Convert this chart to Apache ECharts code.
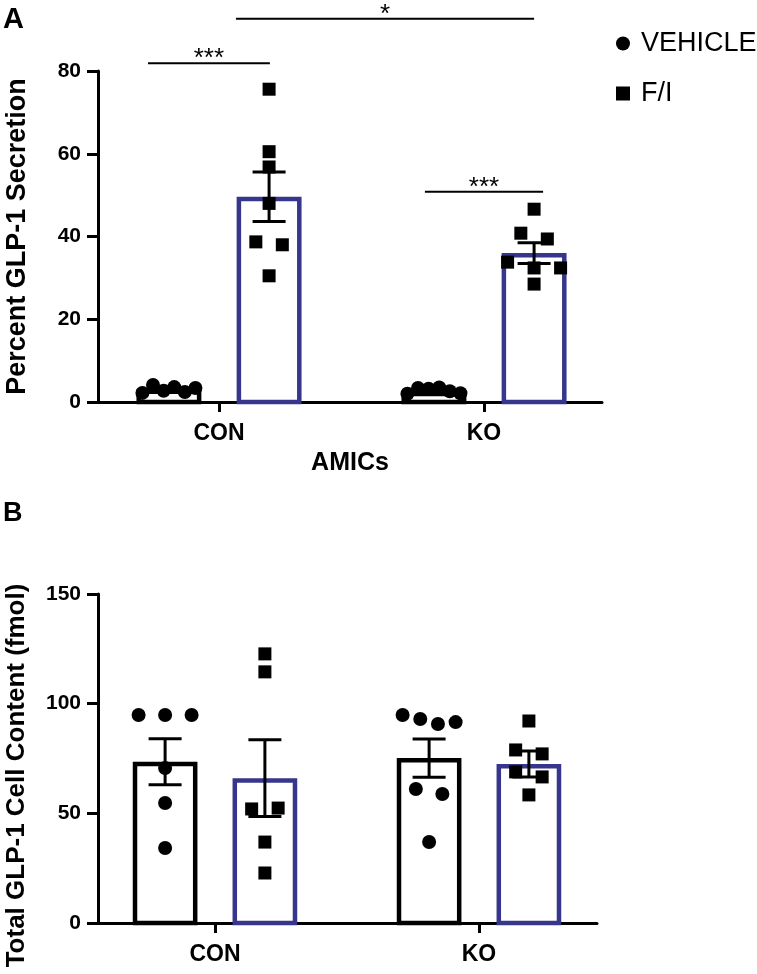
<!DOCTYPE html>
<html><head><meta charset="utf-8">
<script src="https://cdn.jsdelivr.net/npm/echarts@6/dist/echarts.min.js"></script>
<style>html,body{margin:0;padding:0;background:#fff}#c{width:757px;height:974px}</style>
</head><body><div id="c"></div>
<script>
// ---------------- data ----------------
const categories = ['CON', 'KO'];
const treatments = ['VEHICLE', 'F/I'];
const xTitleA = 'AMICs';
const yTitleA = 'Percent GLP-1 Secretion';
const yTitleB = 'Total GLP-1 Cell Content (fmol)';

// Panel A — percent GLP-1 secretion
const aVehicleMean = [3.0, 2.5];
const aVehicleSem = [0.3, 0.3];
const aFIMean = [49.6, 36.0];
const aFISem = [6.0, 2.5];
const aVehicleCON = [2.2, 4.1, 2.7, 3.6, 2.4, 3.4];
const aFICON = [75.6, 60.5, 56.8, 48.0, 38.7, 38.0, 30.5];
const aVehicleKO = [2.0, 3.4, 3.2, 3.5, 2.6, 2.1];
const aFIKO = [46.6, 40.8, 39.4, 33.8, 32.4, 32.4, 28.5];
// significance brackets (x in category units, y in axis units)
const sigText = ['***', '*', '***'];
const sigFrom = [0.732, 1.064, 1.777];
const sigTo = [1.192, 2.189, 2.223];
const sigLevel = [81.9, 92.6, 50.8];

// Panel B — total GLP-1 cell content (fmol)
const bVehicleMean = [73.5, 75.2];
const bVehicleSem = [10.5, 8.7];
const bFIMean = [66.0, 72.5];
const bFISem = [17.5, 5.9];
const bVehicleCON = [94.8, 94.8, 94.8, 70.7, 54.7, 34.2];
const bFICON = [122.7, 114.5, 52.0, 52.4, 36.9, 22.8];
const bVehicleKO = [94.8, 93.0, 90.7, 91.6, 61.1, 58.8, 36.9];
const bFIKO = [92.1, 78.9, 77.1, 68.9, 66.6, 58.4];

// ---------------- style / layout ----------------
const FONT = '"Liberation Sans", Arial, Helvetica, sans-serif';
const BLUE = '#36368c';
const BAR_W = 0.245;      // bar width in category units
const OFFSET = 0.189;     // bar centre offset from category centre
const MARK = 13;          // marker size in px

function swarm(vals, ppu) {
  // groups points of similar value into rows and spreads each row symmetrically
  const idx = vals.map((v, i) => i).sort((a, b) => vals[b] - vals[a] || a - b);
  const rows = [];
  let cur = [];
  idx.forEach((i, n) => {
    if (n > 0 && (vals[idx[n - 1]] - vals[i]) * ppu > MARK) { rows.push(cur); cur = []; }
    cur.push(i);
  });
  if (cur.length) rows.push(cur);
  const offs = new Array(vals.length).fill(0);
  rows.forEach(r => {
    r.sort((a, b) => a - b);
    const n = r.length;
    const sp = n > 1 ? Math.min(26.5, 53 / (n - 1)) : 0;
    r.forEach((i, k) => { offs[i] = (k - (n - 1) / 2) * sp; });
  });
  return offs;
}

function yAxisCfg(gi, max, interval, name, gap, pad, fs) {
  return {
    type: 'value', gridIndex: gi, min: 0, max, interval,
    name, nameLocation: 'middle', nameGap: gap, nameRotate: 90,
    nameTextStyle: { fontFamily: FONT, fontWeight: 'bold', fontSize: fs, color: '#000', padding: pad },
    axisLine: { show: true, lineStyle: { color: '#000', width: 3 } },
    axisTick: { show: true, length: 11, lineStyle: { color: '#000', width: 3 } },
    axisLabel: { fontFamily: FONT, fontWeight: 'bold', fontSize: 21, color: '#000', margin: 17 },
    splitLine: { show: false }
  };
}
function xAxisCfg(gi, min, max, name) {
  return {
    type: 'value', gridIndex: gi, min, max,
    axisLine: { show: true, onZero: false, lineStyle: { color: '#000', width: 3 } },
    axisTick: { show: true, length: 10, customValues: [1, 2], lineStyle: { color: '#000', width: 3 } },
    axisLabel: { show: true, customValues: [1, 2], formatter: v => categories[Math.round(v) - 1] || '',
      fontFamily: FONT, fontWeight: 'bold', fontSize: 23, color: '#000', margin: 20 },
    splitLine: { show: false },
    name, nameLocation: 'middle', nameGap: 49,
    nameTextStyle: { fontFamily: FONT, fontWeight: 'bold', fontSize: 25, color: '#000' }
  };
}

function barSeries(gi, means, off, color) {
  return {
    type: 'custom', xAxisIndex: gi, yAxisIndex: gi, z: 2, silent: true,
    data: means.map((m, i) => [i + 1 + off, m]),
    renderItem: (p, api) => {
      const x = api.value(0), y = api.value(1);
      const a = api.coord([x - BAR_W / 2, y]);
      const b = api.coord([x + BAR_W / 2, 0]);
      const lw = 4.5;
      return { type: 'rect',
        shape: { x: a[0] + lw / 2, y: a[1] + lw / 2, width: b[0] - a[0] - lw, height: b[1] - a[1] - lw / 2 },
        style: { fill: '#fff', stroke: color, lineWidth: lw } };
    }
  };
}
function errSeries(gi, means, sems, off) {
  return {
    type: 'custom', xAxisIndex: gi, yAxisIndex: gi, z: 4, silent: true,
    data: means.map((m, i) => [i + 1 + off, m, sems[i]]),
    renderItem: (p, api) => {
      const x = api.value(0), m = api.value(1), s = api.value(2);
      const t = api.coord([x, m + s]), b = api.coord([x, m - s]);
      const st = { stroke: '#000', lineWidth: 3 };
      return { type: 'group', children: [
        { type: 'line', shape: { x1: t[0], y1: t[1], x2: b[0], y2: b[1] }, style: st },
        { type: 'line', shape: { x1: t[0] - 16.5, y1: t[1], x2: t[0] + 16.5, y2: t[1] }, style: st },
        { type: 'line', shape: { x1: b[0] - 16.5, y1: b[1], x2: b[0] + 16.5, y2: b[1] }, style: st }
      ] };
    }
  };
}
function pointSeries(name, gi, groups, off, symbol) {
  const data = [];
  groups.forEach((vals, g) => vals.forEach((v, k) => data.push([g + 1 + off, v, g, k])));
  let cache = null;
  return {
    type: 'custom', name, xAxisIndex: gi, yAxisIndex: gi, z: 3,
    itemStyle: { color: '#000' }, data,
    encode: { x: 0, y: 1 },
    renderItem: (p, api) => {
      const ppu = api.size([0, 1])[1];
      if (!cache || cache.ppu !== ppu) cache = { ppu, offs: groups.map(v => swarm(v, ppu)) };
      const c = api.coord([api.value(0), api.value(1)]);
      const x = c[0] + cache.offs[api.value(2)][api.value(3)];
      if (symbol === 'circle') return { type: 'circle', shape: { cx: x, cy: c[1], r: 7 }, style: { fill: '#000' } };
      return { type: 'rect', shape: { x: x - MARK / 2, y: c[1] - MARK / 2, width: MARK, height: MARK }, style: { fill: '#000' } };
    }
  };
}
const sigSeries = {
  type: 'custom', xAxisIndex: 0, yAxisIndex: 0, z: 5, silent: true, clip: false,
  data: sigText.map((t, i) => [sigFrom[i], sigTo[i], sigLevel[i], i]),
  encode: { x: [0, 1], y: 2 },
  renderItem: (p, api) => {
    const a = api.coord([api.value(0), api.value(2)]);
    const b = api.coord([api.value(1), api.value(2)]);
    return { type: 'group', children: [
      { type: 'line', shape: { x1: a[0], y1: a[1], x2: b[0], y2: b[1] }, style: { stroke: '#000', lineWidth: 2 } },
      { type: 'text', x: (a[0] + b[0]) / 2, y: a[1] + 9, style: { text: sigText[api.value(3)], fill: '#000',
        font: '26px ' + FONT, align: 'center', verticalAlign: 'bottom' } }
    ] };
  }
};

const option = {
  backgroundColor: '#fff',
  animation: false,
  grid: [
    { left: 98, top: 71, width: 504, height: 331, outerBoundsMode: 'none', containLabel: false },
    { left: 98, top: 594, width: 499, height: 329, outerBoundsMode: 'none', containLabel: false }
  ],
  xAxis: [
    xAxisCfg(0, 1 - 121 / 265, 2 + 118 / 265, xTitleA),
    xAxisCfg(1, 1 - 117 / 264, 2 + 118 / 264, '')
  ],
  yAxis: [
    yAxisCfg(0, 80, 20, yTitleA, 67, 0, 27),
    yAxisCfg(1, 150, 50, yTitleB, 68, [0, 34, 0, 0], 26)
  ],
  legend: {
    orient: 'vertical', left: 611, top: 25, itemGap: 23, itemWidth: 14, itemHeight: 14,
    textStyle: { fontFamily: FONT, fontSize: 27, color: '#000', lineHeight: 27, padding: [0, 0, 0, 6] },
    data: [{ name: treatments[0], icon: 'circle' }, { name: treatments[1], icon: 'rect' }],
    selectedMode: false
  },
  graphic: [
    { type: 'text', left: 3, top: 5, style: { text: 'A', font: 'bold 29px ' + FONT, fill: '#000' } },
    { type: 'text', left: 3, top: 500, style: { text: 'B', font: 'bold 27px ' + FONT, fill: '#000' } }
  ],
  series: [
    barSeries(0, aVehicleMean, -OFFSET, '#000'),
    barSeries(0, aFIMean, OFFSET, BLUE),
    pointSeries(treatments[0], 0, [aVehicleCON, aVehicleKO], -OFFSET, 'circle'),
    pointSeries(treatments[1], 0, [aFICON, aFIKO], OFFSET, 'rect'),
    errSeries(0, aVehicleMean, aVehicleSem, -OFFSET),
    errSeries(0, aFIMean, aFISem, OFFSET),
    sigSeries,
    barSeries(1, bVehicleMean, -OFFSET, '#000'),
    barSeries(1, bFIMean, OFFSET, BLUE),
    pointSeries(treatments[0], 1, [bVehicleCON, bVehicleKO], -OFFSET, 'circle'),
    pointSeries(treatments[1], 1, [bFICON, bFIKO], OFFSET, 'rect'),
    errSeries(1, bVehicleMean, bVehicleSem, -OFFSET),
    errSeries(1, bFIMean, bFISem, OFFSET)
  ]
};
const chart = echarts.init(document.getElementById('c'));
chart.setOption(option);
</script></body></html>
